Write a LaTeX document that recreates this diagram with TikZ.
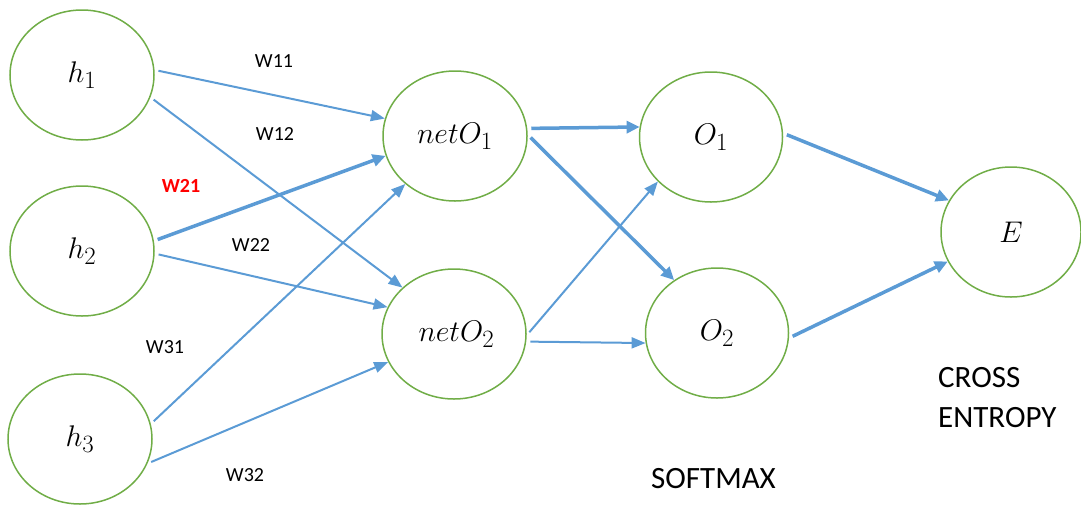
\documentclass[tikz,border=0pt]{standalone}
\usepackage{fontspec}
\usepackage{graphicx}
\setsansfont{Carlito}
\usetikzlibrary{shapes.geometric,arrows.meta}
\definecolor{ngreen}{HTML}{70AD47}
\definecolor{nblue}{HTML}{5B9BD5}
\newcommand{\mlab}[1]{\scalebox{1.2}{$#1$}}
\begin{document}
\begin{tikzpicture}[x=1pt,y=-1pt,
  neuron/.style={ellipse, draw=ngreen, line width=1.5pt, minimum width=144pt, minimum height=130pt, inner sep=0pt, font=\fontsize{24.88}{30}\selectfont},
  thinarrow/.style={draw=nblue, line width=2pt, shorten <=4pt, -{Triangle[length=14pt,width=11pt]}},
  thickarrow/.style={draw=nblue, line width=3.5pt, shorten <=4pt, -{Triangle[length=13pt,width=12pt]}},
  wlab/.style={font=\fontsize{20}{24}\sffamily\selectfont, inner sep=0pt},
  biglab/.style={font=\fontsize{31}{40}\sffamily\selectfont, inner sep=0pt, align=left, anchor=north west}]
\useasboundingbox (0,0) rectangle (1081,504);
\node[neuron] (h1) at (82,75) {\mlab{h_1}};
\node[neuron] (h2) at (82,251) {\mlab{h_2}};
\node[neuron] (h3) at (80,439) {\mlab{h_3}};
\node[neuron] (n1) at (455,136) {\mlab{netO_1}};
\node[neuron] (n2) at (454,334) {\mlab{\,netO_2}};
\node[neuron, minimum width=143pt] (o1) at (711,137) {\mlab{O_1}};
\node[neuron, minimum width=143pt] (o2) at (717,333) {\mlab{O_2}};
\node[neuron, minimum width=140pt] (e) at (1011,232) {\mlab{E}};
% hidden -> net
\draw[thinarrow] (h1.4) -- (n1.166);
\draw[thinarrow] (h1.-18) -- (n2.138);
\draw[thickarrow] (h2.8) -- (n1.196);
\draw[thinarrow] (h2.-2) -- (n2.158);
\draw[thinarrow] (h3.12) -- (n1.224);
\draw[thinarrow] (h3.-20) -- (n2.203);
% net -> softmax
\draw[thickarrow] (n1.6) -- (o1.172);
\draw[thickarrow] (n1.1) -- (o2.129);
\draw[thinarrow] (n2.-1) -- (o1.220);
\draw[thinarrow] (n2.-6) -- (o2.188);
% softmax -> E
\draw[thickarrow] (o1.3) -- (e.153);
\draw[thickarrow] (o2.-4) -- (e.205);
% labels
\node[wlab] (w11) at (274,61) {W11};
\node[wlab] (w12) at (275,134) {W12};
\node[wlab, text=red, font=\fontsize{20}{24}\sffamily\bfseries] (w21) at (181,186) {W21};
\node[wlab] (w22) at (251,245) {W22};
\node[wlab] (w31) at (165,347) {W31};
\node[wlab] (w32) at (245,475) {W32};
\node[biglab] (ce) at (938,367) {CROSS\\ENTROPY};
\node[biglab] (sm) at (651,468) {SOFTMAX};
\end{tikzpicture}
\end{document}
